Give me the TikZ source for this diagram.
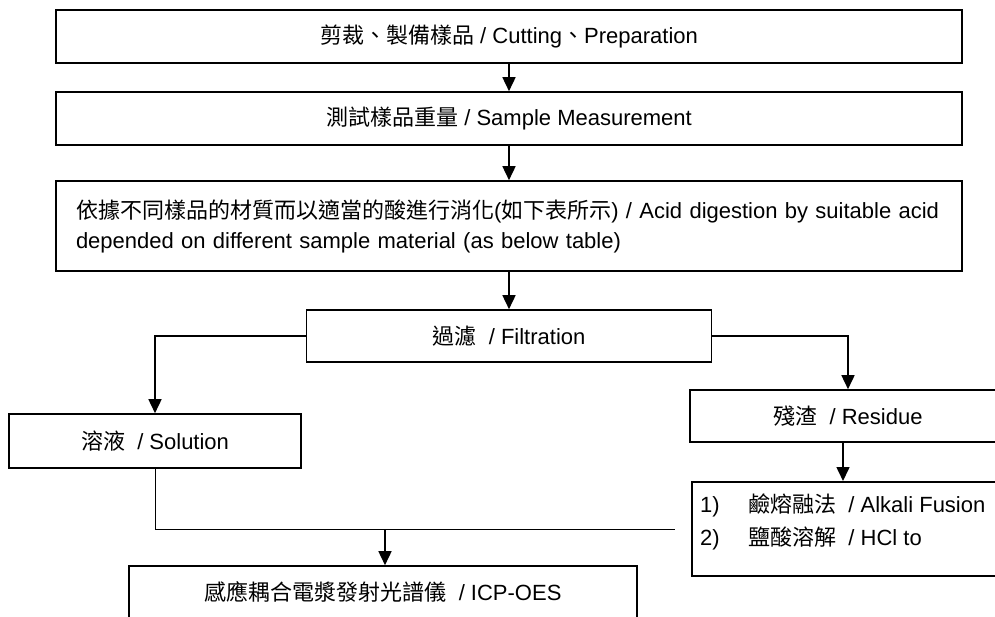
\documentclass[tikz,border=0pt]{standalone}
\usepackage{fontspec}
\setmainfont{Liberation Sans}
\newfontfamily\cjk{Noto Sans CJK TC}
\usetikzlibrary{arrows.meta,positioning}

\begin{document}
\begin{tikzpicture}[x=1pt,y=-1pt,on grid,
   font=\fontsize{22pt}{30pt}\selectfont,
   box/.style={draw,line width=1.6pt,inner sep=0pt},
   flow/.style={line width=1.6pt,-{Triangle[width=13pt,length=14pt]}}]
   \clip (0,0) rectangle (995,617);
   \node[box,minimum width=906pt,minimum height=53pt] (cut) at (509,36.5) {{\cjk 剪裁、製備樣品} / Cutting{\cjk 、}Preparation};
   \node[box,minimum width=906pt,minimum height=53pt] (meas) [below=82pt of cut] {{\cjk 測試樣品重量} / Sample Measurement};
   \node[box,text width=866pt,inner xsep=20pt,minimum height=90pt,align=left] (acid) [below=107.5pt of meas]
      {{\cjk 依據不同樣品的材質而以適當的酸進行消化}({\cjk 如下表所示}) / Acid digestion by suitable acid\\
       depended on different sample material (as below table)};
   \node[box,minimum width=405pt,minimum height=52pt] (filt) [below=110pt of acid] {{\cjk 過濾} ~/ Filtration};
   \node[box,minimum width=292pt,minimum height=54pt] (sol) at (155,441) {{\cjk 溶液} ~/ Solution};
   \node[box,minimum width=316pt,minimum height=52pt] (res) at (848,416) {{\cjk 殘渣} ~/ Residue};
   \node[box,anchor=north west,minimum width=320pt,minimum height=94pt] (fus) at (691,481) {};
   \node[anchor=west,align=left,inner sep=0pt,font=\fontsize{22pt}{33pt}\selectfont] (fustext)
      at ([xshift=9pt,yshift=6.5pt]fus.west)
      {\makebox[48pt][l]{1)}{\cjk 鹼熔融法} ~/ Alkali Fusion\\
       \makebox[48pt][l]{2)}{\cjk 鹽酸溶解} ~/ HCl to};
   \node[box,minimum width=508pt,minimum height=52pt] (icp) at (383,592) {{\cjk 感應耦合電漿發射光譜儀} ~/ ICP-OES};
   \coordinate (join) at (385,529);
   \coordinate (joinend) at (675,529);
   \draw[flow] (cut) -- (meas);
   \draw[flow] (meas) -- (acid);
   \draw[flow] (acid) -- (filt);
   \draw[flow] (filt.west) -| (sol.north);
   \draw[flow] (filt.east) -| (res.north);
   \draw[flow] ([xshift=-5pt]res.south) -- ([xshift=-5pt]res.south |- fus.north);
   \draw[line width=1pt] (sol.south) |- (joinend);
   \draw[flow] (join) -- (join |- icp.north);
\end{tikzpicture}
\end{document}
